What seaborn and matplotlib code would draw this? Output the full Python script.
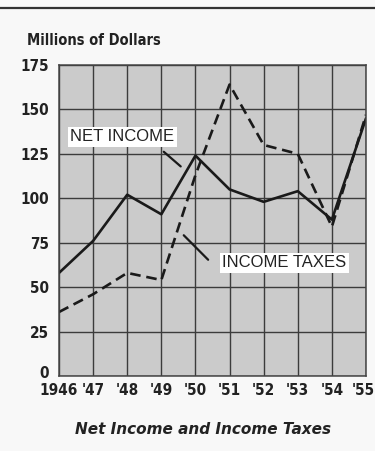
import pandas as pd
import matplotlib
matplotlib.use("Agg")
import matplotlib.pyplot as plt
import matplotlib.transforms as mtransforms
import seaborn as sns

# Dados (milhões de dólares)
anos = [1946, 1947, 1948, 1949, 1950, 1951, 1952, 1953, 1954, 1955]
lucro_liquido = [58, 76, 102, 91, 124, 105, 98, 104, 88, 145]
impostos = [36, 46, 58, 54, 113, 164, 130, 125, 84, 147]
rotulos_x = ['1946', "'47", "'48", "'49", "'50", "'51", "'52", "'53", "'54", "'55"]
ticks_y = [0, 25, 50, 75, 100, 125, 150, 175]

df = pd.DataFrame({
    'ano': anos * 2,
    'valor': lucro_liquido + impostos,
    'serie': ['NET INCOME'] * len(anos) + ['INCOME TAXES'] * len(anos),
})

sns.set_style('whitegrid', {
    'axes.facecolor': '#cbcbcb',
    'axes.edgecolor': '#444444',
    'grid.color': '#3c3c3c',
    'figure.facecolor': '#f8f8f8',
})

fig = plt.figure(figsize=(3.75, 4.51), dpi=100)
ax = fig.add_axes([0.1573, 0.1663, 0.8187, 0.6896])

sns.lineplot(data=df, x='ano', y='valor', style='serie', color='#1a1a1a',
             linewidth=1.9, dashes={'NET INCOME': '', 'INCOME TAXES': (4, 2.2)},
             legend=False, ax=ax)

ax.set_xlim(1946, 1955)
ax.set_ylim(0, 175)
ax.set_xticks(anos)
ax.set_xticklabels(rotulos_x)
ax.set_yticks(ticks_y)
ax.grid(True, linewidth=1.0)
ax.tick_params(length=0, pad=5)
ax.tick_params(axis='y', pad=7)
for lbl in ax.get_xticklabels() + ax.get_yticklabels():
    lbl.set_family('DejaVu Sans')
    lbl.set_fontstretch('condensed')
    lbl.set_fontweight('bold')
    lbl.set_fontsize(11)
    lbl.set_color('#222222')
# o último rótulo fica encostado na borda direita, e o "0" sobe um pouco
ultimo = ax.get_xticklabels()[-1]
ultimo.set_transform(ultimo.get_transform() +
                     mtransforms.ScaledTranslation(-2 / 72, 0, fig.dpi_scale_trans))
zero = ax.get_yticklabels()[0]
zero.set_transform(zero.get_transform() +
                   mtransforms.ScaledTranslation(0, 3 / 72, fig.dpi_scale_trans))
for s in ax.spines.values():
    s.set_linewidth(1.1)
ax.set_xlabel('')
ax.set_ylabel('')

# Rótulos das séries com linhas de chamada
caixa = dict(boxstyle='square,pad=0.15', facecolor='white', edgecolor='none')
ax.text(1947.85, 134.6, 'NET INCOME', fontsize=12, family='Liberation Sans',
        ha='center', va='center', color='#222222', bbox=caixa)
ax.text(1952.6, 63.6, 'INCOME TAXES', fontsize=12, family='Liberation Sans',
        ha='center', va='center', color='#222222', bbox=caixa)
ax.annotate('', xy=(1949.63, 116.9), xytext=(1949.01, 127.2),
            arrowprops=dict(arrowstyle='-', color='#1a1a1a', lw=1.6))
ax.annotate('', xy=(1950.43, 64.3), xytext=(1949.6, 80.3),
            arrowprops=dict(arrowstyle='-', color='#1a1a1a', lw=1.6))

fig.text(0.072, 0.911, 'Millions of Dollars', family='DejaVu Sans',
         fontstretch='condensed', fontweight='bold',
         fontsize=10.5, ha='left', va='center', color='#222222')
fig.text(0.542, 0.047, 'Net Income and Income Taxes', fontweight='bold',
         style='italic', fontsize=11, ha='center', va='center', color='#222222')
fig.add_artist(plt.Line2D([0, 1], [0.982, 0.982], color='#333333', lw=1.6))

fig.savefig('out.png', dpi=100)
